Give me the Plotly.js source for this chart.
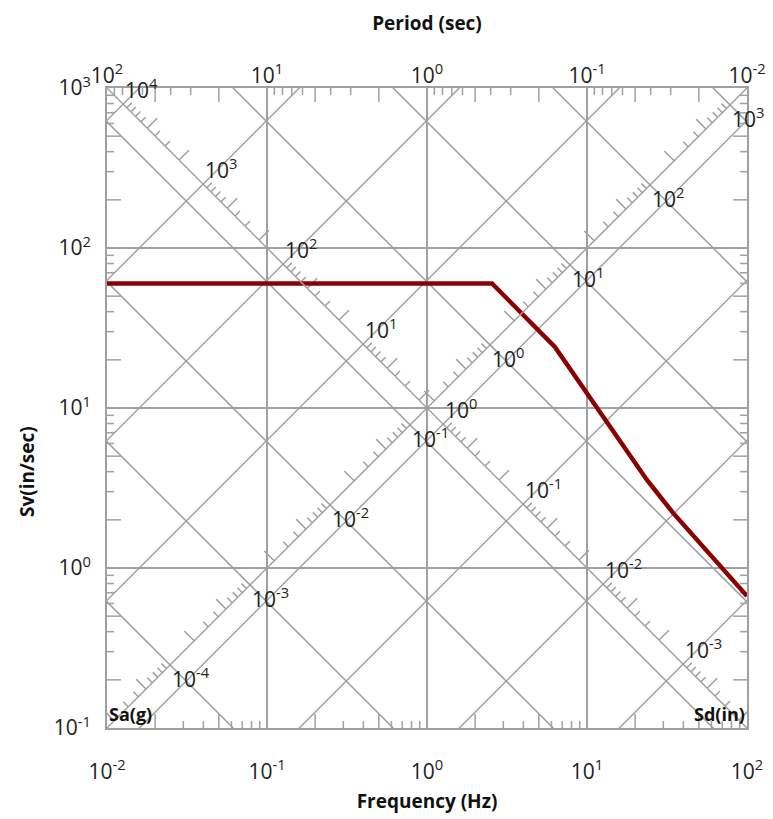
<!DOCTYPE html>
<html><head><meta charset="utf-8">
<script src="https://cdn.plot.ly/plotly-3.0.1.min.js"></script>
<style>html,body{margin:0;padding:0;background:#fff}#chart{width:773px;height:819px}</style>
</head><body><div id="chart"></div>
<script>
// ---- data ----
const freq = [0.01, 2.55, 6.3, 12.6, 23.7, 34.5, 100];          // Hz
const sv   = [60,   60,   24.1, 8.78, 3.55, 2.21, 0.668];       // in/sec
const freqTicks = [0.01, 0.1, 1, 10, 100];
const freqTickText = ['10<sup>-2</sup>','10<sup>-1</sup>','10<sup>0</sup>','10<sup>1</sup>','10<sup>2</sup>'];
const periodTickText = ['10<sup>2</sup>','10<sup>1</sup>','10<sup>0</sup>','10<sup>-1</sup>','10<sup>-2</sup>'];
const svTicks = [0.1, 1, 10, 100, 1000];
const svTickText = ['10<sup>-1</sup>','10<sup>0</sup>','10<sup>1</sup>','10<sup>2</sup>','10<sup>3</sup>'];
const sdDecades = [4, 3, 2, 1, 0, -1, -2, -3];   // Sd (in) labels
const saDecades = [-4, -3, -2, -1, 0, 1, 2, 3];  // Sa (g) labels
const minorDigits = [2, 3, 4, 5, 6, 7, 8, 9];
const longDigits = [2, 5];
const G = 386.1;  // in/s^2

// ---- style ----
const PX_DEC = 160;            // plot is 640 px for 4 decades
const GRID = '#a0a0a0';
const TICK_S = 7, TICK_L = 14;
const FONT = 'Open Sans, DejaVu Sans, sans-serif';
const LBL = 21;

const TWO_PI = 2 * Math.PI;
const inX = f => f >= 0.01 * 0.999 && f <= 100 * 1.001;
const inY = v => v >= 0.1 * 0.999 && v <= 1000 * 1.001;

// diagonal decade gridlines (Sd constant: slope +1, Sa constant: slope -1)
const fLo = 1e-4, fHi = 1e4;
let gx = [], gy = [];
sdDecades.forEach(k => {
  const D = Math.pow(10, k);
  gx.push(fLo, fHi, null); gy.push(TWO_PI * fLo * D, TWO_PI * fHi * D, null);
});
saDecades.forEach(k => {
  const A = Math.pow(10, k);
  gx.push(fLo, fHi, null); gy.push(A * G / (TWO_PI * fLo), A * G / (TWO_PI * fHi), null);
});

// the two labelled diagonal axes (corner to corner)
const ax = [0.01, 100, null, 0.01, 100];
const ay = [1000, 0.1, null, 0.1, 1000];

// ticks along diagonal axes
let tx = [], ty = [];
for (let k = -5; k <= 5; k++) {
  minorDigits.forEach(m => {
    const L = longDigits.includes(m) ? TICK_L : TICK_S;
    const d = Math.pow(10, L / Math.SQRT2 / PX_DEC);
    const D = m * Math.pow(10, k);
    let f0 = Math.sqrt(10 / (TWO_PI * D)), v0 = 10 / f0;
    if (inX(f0) && inY(v0)) { tx.push(f0, f0 * d, null); ty.push(v0, v0 * d, null); }
    const A = m * Math.pow(10, k);
    f0 = Math.sqrt(A * G / (20 * Math.PI)); v0 = 10 * f0;
    if (inX(f0) && inY(v0)) { tx.push(f0, f0 / d, null); ty.push(v0, v0 * d, null); }
  });
}
// frame ticks (inside)
for (let k = -3; k <= 3; k++) {
  minorDigits.forEach(m => {
    const L = longDigits.includes(m) ? TICK_L : TICK_S;
    const r = Math.pow(10, L / PX_DEC);
    const val = m * Math.pow(10, k);
    if (val > 0.01 && val < 100) { tx.push(val, val, null); ty.push(0.1, 0.1 * r, null); }
    const fT = 1 / val;
    if (fT > 0.01 && fT < 100) { tx.push(fT, fT, null); ty.push(1000, 1000 / r, null); }
    if (val > 0.1 && val < 1000) {
      tx.push(0.01, 0.01 * r, null); ty.push(val, val, null);
      tx.push(100, 100 / r, null); ty.push(val, val, null);
    }
  });
}

const traces = [
  {x: gx, y: gy, mode: 'lines', line: {color: GRID, width: 1.5}, hoverinfo: 'skip'},
  {x: ax, y: ay, mode: 'lines', line: {color: GRID, width: 1.5}, hoverinfo: 'skip', xaxis: 'x2'},
  {x: tx, y: ty, mode: 'lines', line: {color: GRID, width: 1.5}, hoverinfo: 'skip'},
  {x: freq, y: sv, mode: 'lines', line: {color: '#8b0000', width: 4.5}, name: 'Sv'}
];

// diagonal axis labels
const ann = [];
sdDecades.forEach(k => {
  const D = Math.pow(10, k);
  const f0 = Math.sqrt(10 / (TWO_PI * D)), v0 = 10 / f0;
  ann.push({x: Math.log10(f0), y: Math.log10(v0), xref: 'x', yref: 'y', text: '10<sup>' + k + '</sup>',
    showarrow: false, xanchor: 'left', yanchor: 'bottom', xshift: 0, yshift: -2,
    font: {family: FONT, size: LBL, color: '#222'}});
});
saDecades.forEach(k => {
  const A = Math.pow(10, k);
  const f0 = Math.sqrt(A * G / (20 * Math.PI)), v0 = 10 * f0;
  ann.push({x: Math.log10(f0), y: Math.log10(v0), xref: 'x', yref: 'y', text: '10<sup>' + k + '</sup>',
    showarrow: false, xanchor: 'left', yanchor: 'top', xshift: 0, yshift: 5,
    font: {family: FONT, size: LBL, color: '#222'}});
});
ann.push({x: 0, y: 0, xref: 'paper', yref: 'paper', text: 'Sa(g)', showarrow: false,
  xanchor: 'left', yanchor: 'bottom', yshift: 0, font: {family: FONT, size: 18, color: '#111', weight: 700}});
ann.push({x: 1, y: 0, xref: 'paper', yref: 'paper', text: 'Sd(in)', showarrow: false,
  xanchor: 'right', yanchor: 'bottom', yshift: 0, font: {family: FONT, size: 18, color: '#111', weight: 700}});
ann.push({x: -0.125, y: 0.40, xref: 'paper', yref: 'paper', text: 'Sv(in/sec)', showarrow: false, textangle: -90,
  xanchor: 'center', yanchor: 'middle', font: {family: FONT, size: 19, color: '#111', weight: 700}});

const axCommon = {type: 'log', showline: true, mirror: true, linecolor: GRID, linewidth: 2,
  zeroline: false, ticks: '', tickfont: {family: FONT, size: LBL, color: '#222'}};

const layout = {
  width: 773, height: 819,
  margin: {l: 107, r: 26, t: 88, b: 91},
  paper_bgcolor: '#fff', plot_bgcolor: '#fff', showlegend: false,
  font: {family: FONT, color: '#222'},
  xaxis: Object.assign({}, axCommon, {range: [-2, 2], tickvals: freqTicks, ticktext: freqTickText,
    showgrid: true, gridcolor: GRID, gridwidth: 2, ticklabelstandoff: 24,
    title: {text: 'Frequency (Hz)', font: {family: FONT, size: 19, color: '#111', weight: 700}, standoff: 10}}),
  xaxis2: Object.assign({}, axCommon, {range: [-2, 2], overlaying: 'x', side: 'top', anchor: 'y',
    tickvals: freqTicks, ticktext: periodTickText, showgrid: false, showline: false, ticklabelstandoff: 0,
    title: {text: 'Period (sec)', font: {family: FONT, size: 19, color: '#111', weight: 700}, standoff: 22}}),
  yaxis: Object.assign({}, axCommon, {range: [-1, 3], tickvals: svTicks, ticktext: svTickText,
    showgrid: true, gridcolor: GRID, gridwidth: 2, ticklabelstandoff: 10}),
  annotations: ann
};

Plotly.newPlot('chart', traces, layout, {displayModeBar: false, staticPlot: true});
</script>
</body></html>
